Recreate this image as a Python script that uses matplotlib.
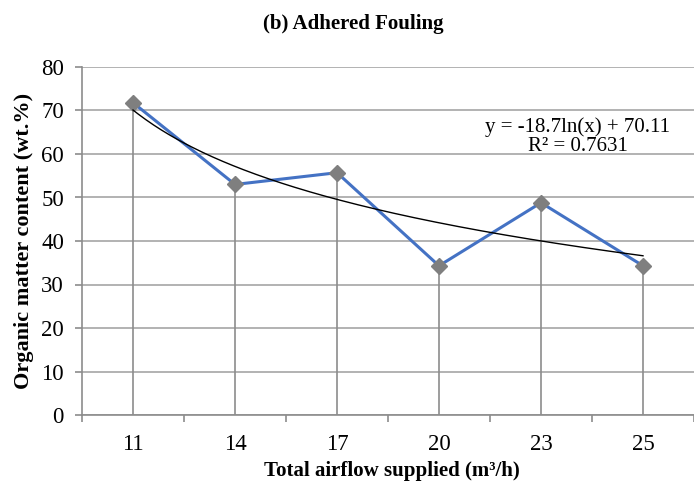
import numpy as np
import matplotlib.pyplot as plt

plt.rcParams['font.family'] = ['Liberation Serif', 'DejaVu Serif']

# airflow categories and organic matter content of adhered fouling
airflow = ['11', '14', '17', '20', '23', '25']
organic = [71.8, 53.0, 55.7, 34.3, 48.8, 34.3]

# logarithmic trendline coefficients (x = category number 1..6)
trend_a = -18.7
trend_b = 70.11
trend_r2 = 0.7631

fig = plt.figure(figsize=(6.94, 4.83), dpi=100)
ax = fig.add_axes([82 / 694, 68 / 483, 612 / 694, 348 / 483])

pos = np.arange(len(airflow))

# horizontal gridlines
ax.set_ylim(0, 80)
ax.set_yticks(range(0, 81, 10))
ax.grid(axis='y', color='#a6a6a6', linewidth=1.2)
ax.set_axisbelow(True)

# drop lines from each point to the axis
ax.vlines(pos, 0, organic, color='#8c8c8c', linewidth=1.2, zorder=1)

ax.plot(pos, organic, color='#4472c4', linewidth=2.2, zorder=3)
ax.plot(pos, organic, linestyle='none', marker='D', markersize=8,
        color='#7f7f7f', zorder=4)

# log trendline
xt = np.linspace(1, len(airflow), 200)
ax.plot(xt - 1, trend_a * np.log(xt) + trend_b, color='black', linewidth=1.0, zorder=5)

label = f'y = {trend_a:g}ln(x) + {trend_b:.2f}\nR² = {trend_r2:.4f}'
ax.text(4.36, 64.0, label, ha='center', va='center', fontsize=15, linespacing=1.02)

ax.set_xlim(-0.5, 5.4)
ax.set_xticks(pos)
ax.set_xticklabels(airflow)
ax.set_xticks(np.arange(-0.5, 6.0, 1.0), minor=True)
ax.tick_params(axis='x', which='major', length=0, pad=14, labelsize=16.5)
ax.tick_params(axis='x', which='minor', length=5, color='#8c8c8c', width=1.2)
ax.tick_params(axis='y', length=5, color='#8c8c8c', width=1.2, labelsize=16.5, pad=8)

for side in ['top', 'right']:
    ax.spines[side].set_visible(False)
for side in ['left', 'bottom']:
    ax.spines[side].set_color('#8c8c8c')
    ax.spines[side].set_linewidth(1.2)

ax.set_ylabel('Organic matter content (wt.%)', fontsize=16, fontweight='bold')
ax.yaxis.set_label_coords(-0.078, 0.5)
fig.text(392 / 694, 1 - 476 / 483, 'Total airflow supplied (m³/h)',
         ha='center', va='baseline', fontsize=15, fontweight='bold')
fig.text(353 / 694, 1 - 29 / 483, '(b) Adhered Fouling',
         ha='center', va='baseline', fontsize=15, fontweight='bold')

fig.savefig('out.png', dpi=100)
